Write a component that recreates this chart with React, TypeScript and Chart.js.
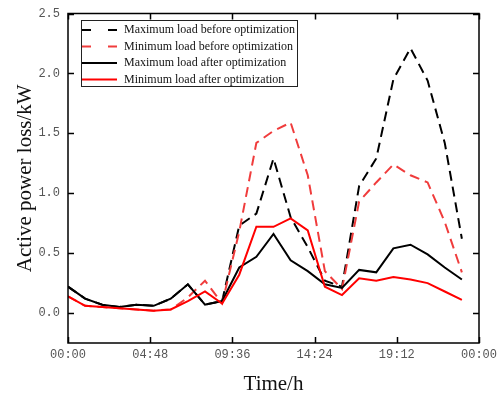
import React, { useEffect, useRef } from "react";
import { Chart, registerables } from "chart.js";

Chart.register(...registerables);

const hours = [0, 1, 2, 3, 4, 5, 6, 7, 8, 9, 10, 11, 12, 13, 14, 15, 16, 17, 18, 19, 20, 21, 22, 23];
const maxBefore = [0.22, 0.12, 0.07, 0.05, 0.07, 0.06, 0.12, 0.24, 0.07, 0.1, 0.73, 0.83, 1.29, 0.8, 0.55, 0.27, 0.22, 1.06, 1.29, 1.95, 2.21, 1.94, 1.42, 0.62];
const minBefore = [0.14, 0.06, 0.05, 0.04, 0.03, 0.02, 0.03, 0.13, 0.27, 0.08, 0.68, 1.42, 1.52, 1.59, 1.15, 0.35, 0.2, 0.93, 1.09, 1.24, 1.15, 1.09, 0.76, 0.34];
const maxAfter = [0.22, 0.12, 0.07, 0.05, 0.07, 0.06, 0.12, 0.24, 0.07, 0.1, 0.38, 0.47, 0.66, 0.44, 0.35, 0.24, 0.21, 0.36, 0.34, 0.54, 0.57, 0.49, 0.38, 0.28];
const minAfter = [0.14, 0.06, 0.05, 0.04, 0.03, 0.02, 0.03, 0.1, 0.18, 0.08, 0.32, 0.72, 0.72, 0.79, 0.69, 0.22, 0.15, 0.29, 0.27, 0.3, 0.28, 0.25, 0.18, 0.11];

const seriesLabels = [
  "Maximum load before optimization",
  "Minimum load before optimization",
  "Maximum load after optimization",
  "Minimum load after optimization",
];

const xTickValues = [0, 4.8, 9.6, 14.4, 19.2, 24];
const xTickLabels = ["00:00", "04:48", "09:36", "14:24", "19:12", "00:00"];
const yTickValues = [0, 0.5, 1, 1.5, 2, 2.5];
const yTickLabels = ["0.0", "0.5", "1.0", "1.5", "2.0", "2.5"];

const xTitle = "Time/h";
const yTitle = "Active power loss/kW";

const colors = ["#000000", "#f03c3c", "#000000", "#ff0000"];
const dashes: number[][] = [[10, 6], [10, 6], [], []];
const legendDashes: number[][] = [[9, 17], [9, 17], [], []];

const toPoints = (arr: number[]) => hours.map((h, i) => ({ x: h, y: arr[i] }));

const framePlugin = {
  id: "frameAndLegend",
  afterDatasetsDraw(chart: any) {
    const { ctx, chartArea, scales } = chart;
    const { left, top, right, bottom } = chartArea;
    const xs = scales.x;
    const ys = scales.y;
    ctx.save();
    ctx.strokeStyle = "#000";
    ctx.lineWidth = 1.5;
    ctx.setLineDash([]);
    ctx.strokeRect(left, top, right - left, bottom - top);
    ctx.beginPath();
    const L = 6;
    xTickValues.forEach((v) => {
      const px = Math.round(xs.getPixelForValue(v)) + 0.5;
      ctx.moveTo(px, bottom);
      ctx.lineTo(px, bottom - L);
      ctx.moveTo(px, top);
      ctx.lineTo(px, top + L);
    });
    yTickValues.forEach((v) => {
      const py = Math.round(ys.getPixelForValue(v)) + 0.5;
      ctx.moveTo(left, py);
      ctx.lineTo(left + L, py);
      ctx.moveTo(right, py);
      ctx.lineTo(right - L, py);
    });
    ctx.stroke();

    // legend
    const bx = 81, by = 20, bw = 216, bh = 66;
    ctx.fillStyle = "#fff";
    ctx.fillRect(bx, by, bw, bh);
    ctx.lineWidth = 1;
    ctx.strokeStyle = "#222";
    ctx.strokeRect(bx + 0.5, by + 0.5, bw, bh);
    ctx.font = "12px 'Liberation Serif'";
    ctx.textBaseline = "middle";
    ctx.textAlign = "left";
    seriesLabels.forEach((label, i) => {
      const yy = 30 + i * 16.5;
      ctx.beginPath();
      ctx.setLineDash(legendDashes[i]);
      ctx.strokeStyle = colors[i];
      ctx.lineWidth = 2;
      ctx.moveTo(82, yy);
      ctx.lineTo(117, yy);
      ctx.stroke();
      ctx.setLineDash([]);
      ctx.fillStyle = "#111";
      ctx.fillText(label, 124, yy);
    });
    ctx.restore();
  },
};

export default function App() {
  const ref = useRef<HTMLCanvasElement | null>(null);
  useEffect(() => {
    document.body.style.margin = "0";
    const canvas = ref.current;
    if (!canvas) return;
    const series = [maxBefore, minBefore, maxAfter, minAfter];
    const orders = [3, 2, 1, 0];
    const chart = new Chart(canvas, {
      type: "line",
      data: {
        datasets: series.map((arr, i) => ({
          label: seriesLabels[i],
          data: toPoints(arr),
          borderColor: colors[i],
          backgroundColor: colors[i],
          borderWidth: 2,
          borderDash: dashes[i],
          pointRadius: 0,
          tension: 0,
          fill: false,
          order: orders[i],
        })),
      },
      options: {
        responsive: false,
        animation: false,
        devicePixelRatio: 1,
        layout: { padding: { top: 13.5, right: 19, left: 0, bottom: 0 } },
        plugins: { legend: { display: false }, tooltip: { enabled: false } },
        scales: {
          x: {
            type: "linear",
            min: 0,
            max: 24,
            grid: { display: false, drawTicks: false },
            border: { display: false },
            afterBuildTicks: (s: any) => {
              s.ticks = xTickValues.map((v) => ({ value: v }));
            },
            afterFit: (s: any) => {
              s.height = 52;
              s.paddingLeft = 0;
              s.paddingRight = 0;
            },
            ticks: {
              autoSkip: false,
              maxRotation: 0,
              padding: 5,
              color: "#555",
              font: { family: "'Liberation Mono'", size: 12 },
              callback: (_v: any, i: number) => xTickLabels[i],
            },
            title: {
              display: true,
              text: xTitle,
              color: "#111",
              font: { family: "'Liberation Serif'", size: 21, lineHeight: 1 },
              padding: { top: 0, bottom: 0 },
            },
          },
          y: {
            type: "linear",
            min: -0.25,
            max: 2.5,
            grid: { display: false, drawTicks: false },
            border: { display: false },
            afterBuildTicks: (s: any) => {
              s.ticks = yTickValues.map((v) => ({ value: v }));
            },
            afterFit: (s: any) => {
              s.width = 68;
              s.paddingTop = 0;
              s.paddingBottom = 0;
            },
            ticks: {
              autoSkip: false,
              padding: 8,
              color: "#555",
              font: { family: "'Liberation Mono'", size: 12 },
              callback: (_v: any, i: number) => yTickLabels[i],
            },
            title: {
              display: true,
              text: yTitle,
              color: "#111",
              font: { family: "'Liberation Serif'", size: 21, lineHeight: 1 },
              padding: { top: 15, bottom: 0 },
            },
          },
        },
      },
      plugins: [framePlugin],
    });
    return () => chart.destroy();
  }, []);
  return <canvas ref={ref} width={498} height={395} style={{ display: "block", width: 498, height: 395 }} />;
}
